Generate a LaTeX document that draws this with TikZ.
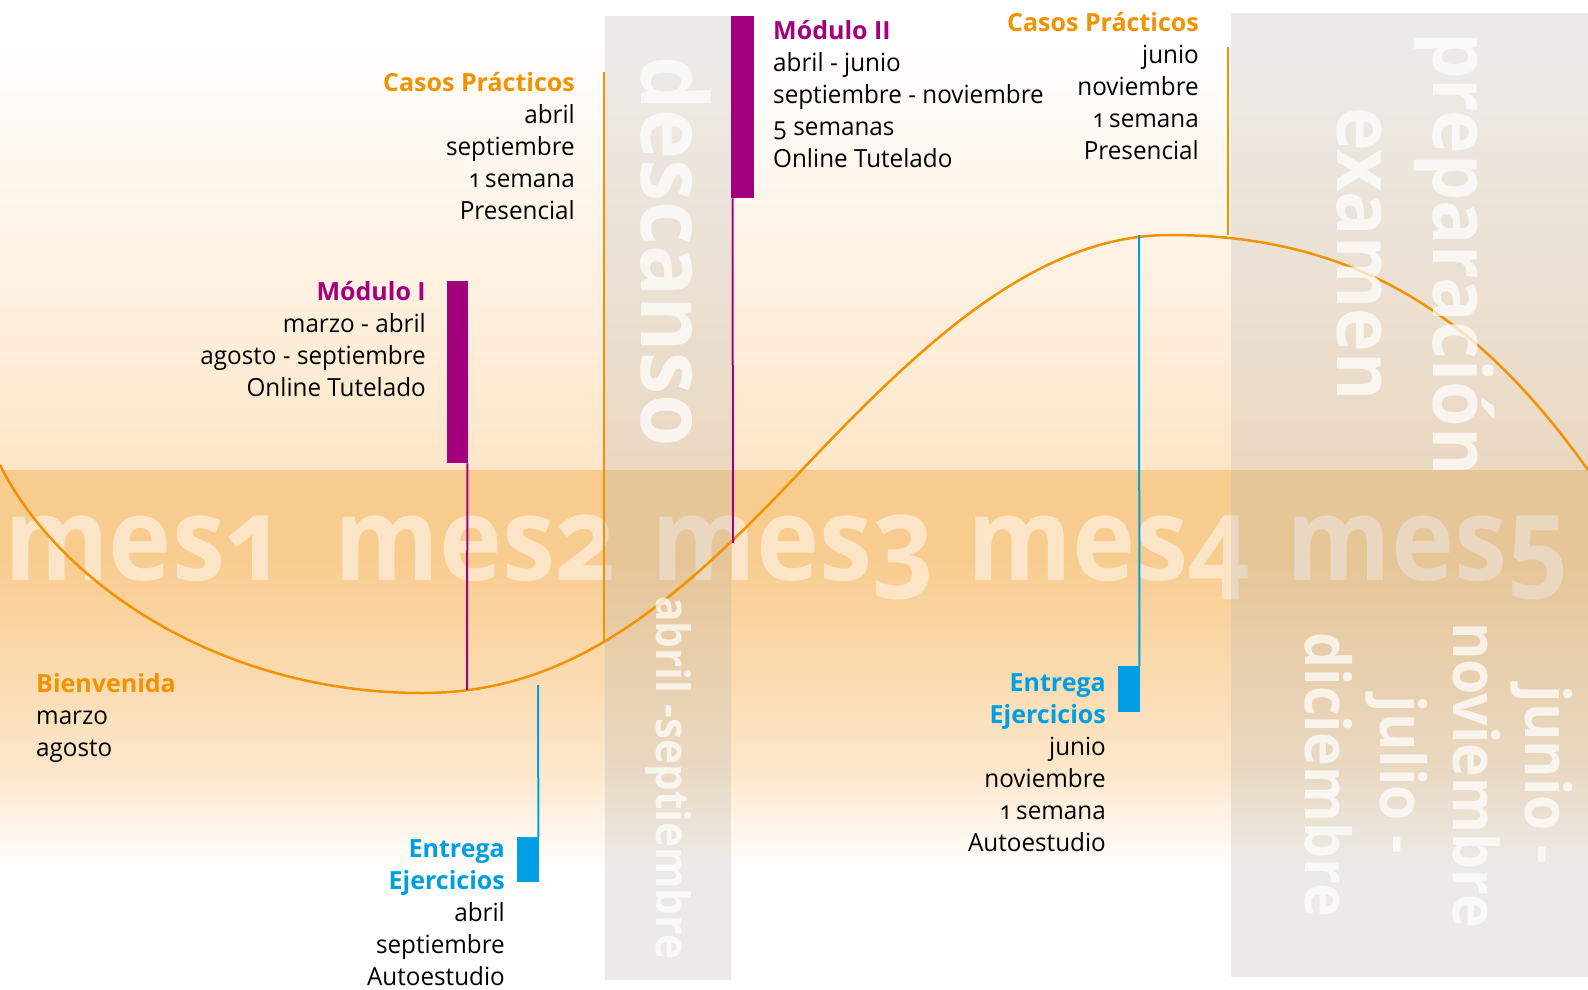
\documentclass[tikz,border=0pt]{standalone}
\usepackage{fontspec}
\setmainfont{Open Sans}[Numbers=OldStyle, FakeStretch=0.97]
\newfontfamily\titlefont{Open Sans}[Numbers=OldStyle]
\newfontfamily\bigfont{Open Sans}[Numbers=OldStyle, FakeStretch=0.92]
\definecolor{corange}{HTML}{F39200}
\definecolor{cpurple}{HTML}{A2007D}
\definecolor{cblue}{HTML}{009FE3}
\definecolor{cpeach}{HTML}{FDE6C8}
\definecolor{cband}{HTML}{F8CC8F}
\definecolor{cbandb}{HTML}{FCE7CB}
\definecolor{cbox}{HTML}{B9B5AE}
\definecolor{cmes}{HTML}{FCE5C6}
\definecolor{ctext}{HTML}{000000}
\newcommand{\ttl}[2]{\textcolor{#1}{\titlefont\bfseries #2}}
\begin{document}
\begin{tikzpicture}[x=1pt,y=-1pt,
  txt/.style={inner sep=0pt, text=ctext, font=\fontsize{25}{32}\selectfont},
  mes/.style={inner sep=0pt, text=cmes, font=\bigfont\bfseries\fontsize{116}{116}\selectfont, anchor=base west},
  rot/.style={rotate=-90, inner sep=0pt, text=white, text opacity=0.72, font=\bigfont\bfseries},
  graybox/.style={fill=cbox, fill opacity=0.27, draw=none},
  curve/.style={draw=corange, line width=2.5pt},
  oline/.style={draw=corange, line width=2.5pt},
  pline/.style={draw=cpurple, line width=2pt},
  bline/.style={draw=cblue, line width=2pt},
  pbar/.style={fill=cpurple, inner sep=0pt, anchor=north west},
  bbar/.style={fill=cblue, inner sep=0pt, anchor=north west}
]
\useasboundingbox (0,0) rectangle (1588,990);
% background
\fill[white] (0,0) rectangle (1588,990);
\shade[top color=white, bottom color=cpeach] (0,40) rectangle (1588,470);
\fill[cband] (0,470) rectangle (1588,560);
\shade[top color=cband, bottom color=cbandb] (0,560) rectangle (1588,770);
\shade[top color=cbandb, bottom color=white] (0,770) rectangle (1588,870);
% month labels
\node[mes] (mes1) at (4,580) {mes1};
\node[mes] (mes2) at (334,580) {mes2};
\node[mes] (mes3) at (651,580) {mes3};
\node[mes] (mes4) at (967,580) {mes4};
\node[mes] (mes5) at (1286,580) {mes5};
% gray boxes
\path[graybox] (605,16) rectangle (731,980);
\path[graybox] (1231,13) rectangle (1588,977);
% curve
\draw[curve] (0,465) .. controls (60,585) and (222,693) .. (422,693)
  .. controls (565,693) and (668,612) .. (800,472)
  .. controls (921,344) and (1036,235) .. (1170,235)
  .. controls (1370,235) and (1488,330) .. (1588,470);
% points on curve
\coordinate (cm1) at (467,690);
\coordinate (cp1bot) at (604,642);
\coordinate (cm2) at (733,543);
\coordinate (ce2) at (1139,235);
\coordinate (cp2bot) at (1228,235);
\coordinate (ce1) at (538,685);
\coordinate (cp1top) at (604,72);
\coordinate (cp2top) at (1228,47);
% bars
\node[pbar, minimum width=21pt, minimum height=182pt] (m1bar) at (447,281) {};
\node[pbar, minimum width=23pt, minimum height=182pt] (m2bar) at (731,16) {};
\node[bbar, minimum width=22pt, minimum height=45pt] (e1bar) at (517,837) {};
\node[bbar, minimum width=22pt, minimum height=46pt] (e2bar) at (1118,666) {};
% connectors
\draw[pline] ([xshift=-1pt]m1bar.south east) -- (cm1);
\draw[pline] ([xshift=1.5pt]m2bar.south west) -- (cm2);
\draw[bline] (ce1) -- ([xshift=-1pt]e1bar.north east);
\draw[bline] (ce2) -- ([xshift=-1pt]e2bar.north east);
\draw[oline] (cp1top) -- (cp1bot);
\draw[oline] (cp2top) -- (cp2bot);
% text blocks
\node[txt, anchor=base east] (cp1) at (575,92) {\begin{tabular}[t]{@{}r@{}}\ttl{corange}{Casos Prácticos}\\abril\\septiembre\\1 semana\\Presencial\end{tabular}};
\node[txt, anchor=base east] (m1) at (426,300) {\begin{tabular}[t]{@{}r@{}}\ttl{cpurple}{Módulo I}\\marzo - abril\\agosto - septiembre\\Online Tutelado\end{tabular}};
\node[txt, anchor=base west] (m2) at (773,40) {\begin{tabular}[t]{@{}l@{}}\ttl{cpurple}{Módulo II}\\abril - junio\\septiembre - noviembre\\5 semanas\\Online Tutelado\end{tabular}};
\node[txt, anchor=base east] (cp2) at (1199,32) {\begin{tabular}[t]{@{}r@{}}\ttl{corange}{Casos Prácticos}\\junio\\noviembre\\1 semana\\Presencial\end{tabular}};
\node[txt, anchor=base west] (bien) at (36,692) {\begin{tabular}[t]{@{}l@{}}\ttl{corange}{Bienvenida}\\marzo\\agosto\end{tabular}};
\node[txt, anchor=base east] (e1) at (505,857) {\begin{tabular}[t]{@{}r@{}}\ttl{cblue}{Entrega}\\\ttl{cblue}{Ejercicios}\\abril\\septiembre\\Autoestudio\end{tabular}};
\node[txt, anchor=base east] (e2) at (1106,691) {\begin{tabular}[t]{@{}r@{}}\ttl{cblue}{Entrega}\\\ttl{cblue}{Ejercicios}\\junio\\noviembre\\1 semana\\Autoestudio\end{tabular}};
% rotated labels
\node[rot, anchor=base west] (desc) at (641,56) {\fontsize{92}{92}\selectfont descanso};
\node[rot, anchor=base west] (abr) at (656,596) {\fontsize{46}{46}\selectfont abril -septiembre};
\node[rot, anchor=base] (prep) at (1433,254) {\fontsize{80}{80}\selectfont preparación};
\node[rot, anchor=base] (exam) at (1337,254) {\fontsize{80}{80}\selectfont examen};
\node[rot, anchor=base] (jun) at (1525,775) {\fontsize{62}{62}\selectfont junio -};
\node[rot, anchor=base] (nov) at (1453,775) {\fontsize{62}{62}\selectfont noviembre};
\node[rot, anchor=base] (jul) at (1380,775) {\fontsize{62}{62}\selectfont julio -};
\node[rot, anchor=base] (dic) at (1305,775) {\fontsize{62}{62}\selectfont diciembre};
\end{tikzpicture}
\end{document}
